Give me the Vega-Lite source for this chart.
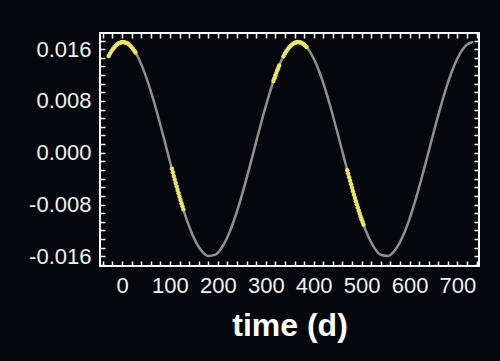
{
  "$schema": "https://vega.github.io/schema/vega-lite/v6.json",
  "width": 379,
  "height": 233,
  "autosize": {"type": "none"},
  "padding": {"left": 100, "top": 33, "right": 21, "bottom": 95},
  "background": "#04070b",
  "config": {
    "view": {"stroke": "#ffffff", "strokeWidth": 2},
    "font": "Liberation Sans",
    "axis": {
      "domain": false,
      "grid": false,
      "tickColor": "#ffffff",
      "tickWidth": 1.5,
      "tickSize": -5,
      "labelColor": "#f2f2f2",
      "labelFont": "Liberation Sans",
      "labelFontSize": 22,
      "labelOverlap": false,
      "labelBound": false,
      "labelFlush": false
    }
  },
  "datasets": {
    "model": [
      {"t": -30, "flux": 0.01466}, {"t": -15, "flux": 0.01640}, {"t": 0, "flux": 0.01709}, {"t": 15, "flux": 0.01669},
      {"t": 30, "flux": 0.01522}, {"t": 45, "flux": 0.01277}, {"t": 60, "flux": 0.00952}, {"t": 75, "flux": 0.00568},
      {"t": 90, "flux": 0.00149}, {"t": 105, "flux": -0.00276}, {"t": 120, "flux": -0.00678}, {"t": 135, "flux": -0.01034},
      {"t": 150, "flux": -0.01315}, {"t": 165, "flux": -0.01507}, {"t": 180, "flux": -0.01595}, {"t": 195, "flux": -0.01574},
      {"t": 210, "flux": -0.01445}, {"t": 225, "flux": -0.01217}, {"t": 240, "flux": -0.00904}, {"t": 255, "flux": -0.00528},
      {"t": 270, "flux": -0.00114}, {"t": 285, "flux": 0.00312}, {"t": 300, "flux": 0.00721}, {"t": 315, "flux": 0.01085},
      {"t": 330, "flux": 0.01382}, {"t": 345, "flux": 0.01590}, {"t": 360, "flux": 0.01697}, {"t": 375, "flux": 0.01695},
      {"t": 390, "flux": 0.01585}, {"t": 405, "flux": 0.01373}, {"t": 420, "flux": 0.01074}, {"t": 435, "flux": 0.00707},
      {"t": 450, "flux": 0.00298}, {"t": 465, "flux": -0.00128}, {"t": 480, "flux": -0.00542}, {"t": 495, "flux": -0.00916},
      {"t": 510, "flux": -0.01226}, {"t": 525, "flux": -0.01451}, {"t": 540, "flux": -0.01576}, {"t": 555, "flux": -0.01594},
      {"t": 570, "flux": -0.01502}, {"t": 585, "flux": -0.01307}, {"t": 600, "flux": -0.01022}, {"t": 615, "flux": -0.00666},
      {"t": 630, "flux": -0.00262}, {"t": 645, "flux": 0.00164}, {"t": 660, "flux": 0.00581}, {"t": 675, "flux": 0.00964},
      {"t": 690, "flux": 0.01287}, {"t": 705, "flux": 0.01528}, {"t": 720, "flux": 0.01672}, {"t": 733, "flux": 0.01710}
    ],
    "obs": [
      {"t": -28, "flux": 0.01494}, {"t": -25, "flux": 0.01535}, {"t": -22, "flux": 0.01571}, {"t": -19, "flux": 0.01603},
      {"t": -16, "flux": 0.01631}, {"t": -13, "flux": 0.01655}, {"t": -10, "flux": 0.01675}, {"t": -7, "flux": 0.01690},
      {"t": -4, "flux": 0.01701}, {"t": -1, "flux": 0.01708}, {"t": 2, "flux": 0.01710}, {"t": 5, "flux": 0.01708},
      {"t": 8, "flux": 0.01701}, {"t": 11, "flux": 0.01690}, {"t": 14, "flux": 0.01675}, {"t": 17, "flux": 0.01655},
      {"t": 20, "flux": 0.01631}, {"t": 23, "flux": 0.01603}, {"t": 26, "flux": 0.01571}, {"t": 28, "flux": 0.01547},
      {"t": 104, "flux": -0.00248}, {"t": 106, "flux": -0.00303}, {"t": 108, "flux": -0.00359}, {"t": 110, "flux": -0.00414},
      {"t": 112, "flux": -0.00468}, {"t": 114, "flux": -0.00522}, {"t": 116, "flux": -0.00575}, {"t": 118, "flux": -0.00627},
      {"t": 120, "flux": -0.00678}, {"t": 122, "flux": -0.00729}, {"t": 124, "flux": -0.00779}, {"t": 126, "flux": -0.00827},
      {"t": 128, "flux": -0.00875},
      {"t": 316, "flux": 0.01108}, {"t": 318, "flux": 0.01151}, {"t": 320, "flux": 0.01193}, {"t": 322, "flux": 0.01234},
      {"t": 324, "flux": 0.01273}, {"t": 326, "flux": 0.01310}, {"t": 328, "flux": 0.01347},
      {"t": 337, "flux": 0.01491}, {"t": 340, "flux": 0.01532}, {"t": 343, "flux": 0.01568}, {"t": 346, "flux": 0.01601},
      {"t": 349, "flux": 0.01629}, {"t": 352, "flux": 0.01653}, {"t": 355, "flux": 0.01673}, {"t": 358, "flux": 0.01689},
      {"t": 361, "flux": 0.01700}, {"t": 364, "flux": 0.01707}, {"t": 367, "flux": 0.01710}, {"t": 370, "flux": 0.01708},
      {"t": 373, "flux": 0.01702}, {"t": 376, "flux": 0.01691}, {"t": 379, "flux": 0.01676}, {"t": 382, "flux": 0.01657},
      {"t": 385, "flux": 0.01633},
      {"t": 470, "flux": -0.00269}, {"t": 472, "flux": -0.00324}, {"t": 474, "flux": -0.00379}, {"t": 476, "flux": -0.00434},
      {"t": 478, "flux": -0.00488}, {"t": 480, "flux": -0.00542}, {"t": 482, "flux": -0.00594}, {"t": 484, "flux": -0.00646},
      {"t": 486, "flux": -0.00698}, {"t": 488, "flux": -0.00748}, {"t": 490, "flux": -0.00797}, {"t": 492, "flux": -0.00845},
      {"t": 494, "flux": -0.00893}, {"t": 496, "flux": -0.00939}, {"t": 498, "flux": -0.00984}, {"t": 500, "flux": -0.01028},
      {"t": 502, "flux": -0.01070}, {"t": 504, "flux": -0.01111}
    ]
  },
  "layer": [
    {
      "data": {"name": "model"},
      "mark": {"type": "line", "color": "#909090", "strokeWidth": 2.5, "interpolate": "monotone"},
      "encoding": {
        "x": {
          "field": "t", "type": "quantitative",
          "scale": {"domain": [-46, 745], "nice": false, "zero": false},
          "axis": {
            "orient": "bottom",
            "values": [-40, -20, 0, 20, 40, 60, 80, 100, 120, 140, 160, 180, 200, 220, 240, 260, 280, 300, 320, 340, 360, 380, 400, 420, 440, 460, 480, 500, 520, 540, 560, 580, 600, 620, 640, 660, 680, 700, 720, 740],
            "format": "d",
            "labelExpr": "datum.value % 100 === 0 ? datum.label : ''",
            "labelPadding": 14,
            "title": "time (d)",
            "titleColor": "#ffffff",
            "titleFont": "Liberation Sans",
            "titleFontSize": 32,
            "titleFontWeight": "bold",
            "titlePadding": 14
          }
        },
        "y": {
          "field": "flux", "type": "quantitative",
          "scale": {"domain": [-0.0175, 0.0185], "nice": false, "zero": false},
          "axis": {
            "orient": "left",
            "values": [-0.017333, -0.016, -0.014667, -0.013333, -0.012, -0.010667, -0.009333, -0.008, -0.006667, -0.005333, -0.004, -0.002667, -0.001333, 0, 0.001333, 0.002667, 0.004, 0.005333, 0.006667, 0.008, 0.009333, 0.010667, 0.012, 0.013333, 0.014667, 0.016, 0.017333],
            "labelExpr": "abs(round(datum.value*1000) - datum.value*1000) < 0.01 && round(datum.value*1000) % 8 === 0 ? replace(format(datum.value, '.3f'), '\u2212', '-') : ''",
            "labelPadding": 14,
            "title": null
          }
        }
      }
    },
    {
      "data": {"name": "obs"},
      "mark": {"type": "circle", "color": "#ece468", "opacity": 1, "size": 20},
      "encoding": {
        "x": {
          "field": "t", "type": "quantitative",
          "axis": {
            "orient": "top",
            "values": [-40, -20, 0, 20, 40, 60, 80, 100, 120, 140, 160, 180, 200, 220, 240, 260, 280, 300, 320, 340, 360, 380, 400, 420, 440, 460, 480, 500, 520, 540, 560, 580, 600, 620, 640, 660, 680, 700, 720, 740],
            "labels": false,
            "title": null
          }
        },
        "y": {
          "field": "flux", "type": "quantitative",
          "axis": {
            "orient": "right",
            "values": [-0.017333, -0.016, -0.014667, -0.013333, -0.012, -0.010667, -0.009333, -0.008, -0.006667, -0.005333, -0.004, -0.002667, -0.001333, 0, 0.001333, 0.002667, 0.004, 0.005333, 0.006667, 0.008, 0.009333, 0.010667, 0.012, 0.013333, 0.014667, 0.016, 0.017333],
            "labels": false,
            "title": null
          }
        }
      }
    }
  ],
  "resolve": {"axis": {"x": "independent", "y": "independent"}}
}
